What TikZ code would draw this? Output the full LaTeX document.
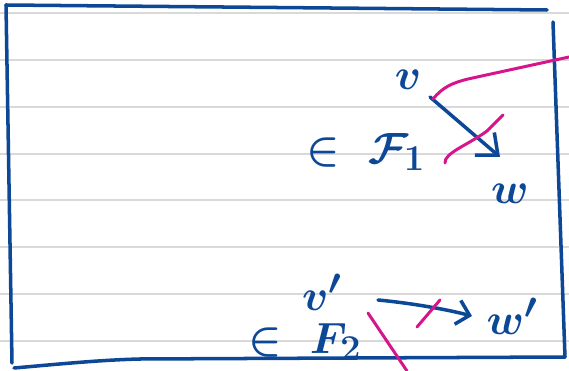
\documentclass[tikz,border=0pt]{standalone}
\usepackage{amsmath,amssymb}
\usepackage{xcolor}
\usepackage{tikz}
\usetikzlibrary{arrows.meta, positioning, calc}
\definecolor{inkblue}{RGB}{12,72,150}
\definecolor{inkpink}{RGB}{214,20,140}

\begin{document}
\begin{tikzpicture}[x=0.02cm, y=-0.02cm,
  ink/.style={draw=inkblue, line width=2pt, line cap=round, line join=round},
  hl/.style={draw=inkpink, line width=1.7pt, line cap=round, line join=round},
  rule/.style={draw=black!15, line width=0.9pt},
  lbl/.style={text=inkblue, font=\fontsize{30}{32}\selectfont\boldmath, inner sep=0pt},
  arr/.style={ink, -{Straight Barb[length=10pt, width=17pt, line width=2pt]}},
  smallarr/.style={ink, -{Straight Barb[length=7pt, width=14pt, line width=2pt]}},
]
\useasboundingbox (0,0) rectangle (569,371);
% ====== RULED PAPER ======
\foreach \ry in {13,60,107,154,200,247,294,341}
  \draw[rule] (0,\ry) -- (569,\ry);
%
% ====== FRAME (hand drawn) ======
\draw[ink] (6,5) -- (547,10);
\draw[ink] (6,5) -- (12,363);
\draw[ink] (553,22) -- (565,357);
\draw[ink] (14,368) .. controls (60,364) and (100,360) .. (140,359) -- (565,357);
%
% ====== TOP PAIR: v -> w ======
\node[lbl] (v) at (408,80) {$v$};
\node[lbl] (vin) at (366,152) {$\in\;\mathcal{F}_{1}$};
\node[lbl] (w) at (510,194) {$w$};
\coordinate (v_tail) at (430,97);
\coordinate (w_tip) at (500,157);
\draw[arr] (v_tail) -- (w_tip);
% highlighter marks
\draw[hl] (433,99) .. controls (443,87) and (452,83) .. (468,79) -- (569,57);
\draw[hl] (445,163) .. controls (444,153) and (468,145) .. (487,131) -- (503,115);
%
% ====== BOTTOM PAIR: v' -> w' ======
\node[lbl] (vp) at (322,292) {$v'$};
\node[lbl] (vpin) at (305,342) {$\in\;F_{2}$};
\node[lbl] (wp) at (512,316) {$w'$};
\coordinate (vp_tail) at (378,300);
\coordinate (wp_tip) at (472,316);
\draw[smallarr] (vp_tail) .. controls (410,303) and (445,309) .. (wp_tip);
% highlighter marks
\draw[hl] (368,313) -- (407,371);
\draw[hl] (417,327) -- (440,300);
\end{tikzpicture}
\end{document}
